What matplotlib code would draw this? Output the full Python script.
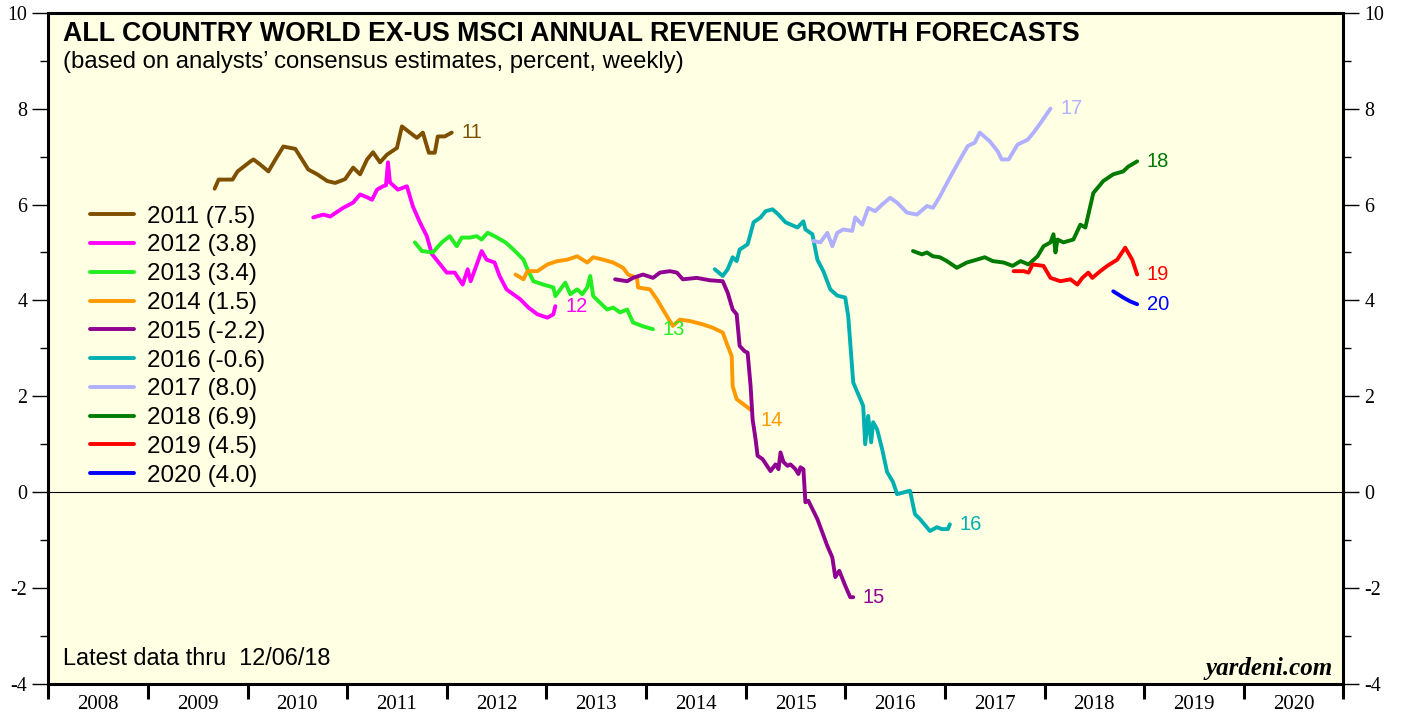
import matplotlib
matplotlib.use("Agg")
import matplotlib.pyplot as plt
from matplotlib.ticker import MultipleLocator, FixedLocator, FixedFormatter

plt.rcParams["font.family"] = "Liberation Sans"
plt.rcParams["axes.unicode_minus"] = False

# ---------------------------------------------------------------------------
# data: weekly consensus forecasts (x = decimal year)
# ---------------------------------------------------------------------------
x_2011 = [2009.67, 2009.71, 2009.77, 2009.85, 2009.90, 2010.03, 2010.06, 2010.13, 2010.21,
          2010.28, 2010.36, 2010.48, 2010.61, 2010.70, 2010.80, 2010.88, 2010.98, 2011.06,
          2011.13, 2011.20, 2011.26, 2011.33, 2011.40, 2011.50, 2011.55, 2011.63, 2011.70,
          2011.76, 2011.82, 2011.88, 2011.91, 2011.98, 2012.05]
y_2011 = [6.33, 6.52, 6.52, 6.52, 6.69, 6.90, 6.94, 6.83, 6.69,
          6.94, 7.21, 7.16, 6.73, 6.63, 6.49, 6.45, 6.53, 6.77,
          6.63, 6.94, 7.09, 6.88, 7.04, 7.18, 7.63, 7.50, 7.39,
          7.50, 7.08, 7.08, 7.42, 7.42, 7.50]

x_2012 = [2010.66, 2010.76, 2010.83, 2010.96, 2011.06, 2011.13, 2011.20, 2011.25, 2011.30,
          2011.36, 2011.39, 2011.41, 2011.43, 2011.51, 2011.60, 2011.66, 2011.73, 2011.80,
          2011.85, 2012.00, 2012.08, 2012.16, 2012.21, 2012.24, 2012.35, 2012.40, 2012.48,
          2012.53, 2012.60, 2012.74, 2012.82, 2012.91, 2013.01, 2013.07, 2013.09]
y_2012 = [5.73, 5.79, 5.75, 5.93, 6.04, 6.21, 6.15, 6.10, 6.31,
          6.38, 6.40, 6.88, 6.46, 6.31, 6.38, 5.96, 5.63, 5.34,
          4.97, 4.58, 4.58, 4.33, 4.65, 4.40, 5.03, 4.85, 4.79,
          4.51, 4.23, 4.02, 3.85, 3.71, 3.64, 3.71, 3.88]

x_2013 = [2011.68, 2011.75, 2011.86, 2011.95, 2012.03, 2012.10, 2012.15, 2012.23, 2012.30,
          2012.35, 2012.41, 2012.48, 2012.59, 2012.67, 2012.77, 2012.81, 2012.87, 2012.97,
          2013.07, 2013.09, 2013.19, 2013.24, 2013.31, 2013.36, 2013.41, 2013.44, 2013.47,
          2013.61, 2013.67, 2013.74, 2013.81, 2013.87, 2013.97, 2014.07]
y_2013 = [5.21, 5.03, 5.00, 5.21, 5.34, 5.13, 5.31, 5.31, 5.34,
          5.27, 5.41, 5.34, 5.21, 5.06, 4.85, 4.65, 4.40, 4.33,
          4.27, 4.09, 4.37, 4.13, 4.23, 4.13, 4.27, 4.51, 4.09,
          3.81, 3.85, 3.75, 3.81, 3.54, 3.46, 3.40]

x_2014 = [2012.69, 2012.77, 2012.81, 2012.91, 2013.01, 2013.11, 2013.21, 2013.31, 2013.41,
          2013.47, 2013.57, 2013.67, 2013.77, 2013.82, 2013.91, 2013.92, 2014.04, 2014.11,
          2014.21, 2014.27, 2014.34, 2014.44, 2014.57, 2014.67, 2014.77, 2014.82, 2014.86,
          2014.87, 2014.91, 2014.98, 2015.05]
y_2014 = [4.54, 4.44, 4.61, 4.61, 4.75, 4.82, 4.85, 4.92, 4.79,
          4.90, 4.85, 4.79, 4.68, 4.54, 4.47, 4.27, 4.23, 4.02,
          3.67, 3.47, 3.60, 3.57, 3.50, 3.43, 3.33, 3.05, 2.84,
          2.21, 1.94, 1.83, 1.72]

x_2015 = [2013.69, 2013.81, 2013.87, 2013.97, 2014.07, 2014.14, 2014.24, 2014.31, 2014.37,
          2014.51, 2014.64, 2014.77, 2014.82, 2014.87, 2014.91, 2014.94, 2014.99, 2015.02,
          2015.05, 2015.07, 2015.10, 2015.12, 2015.17, 2015.25, 2015.30, 2015.33, 2015.35,
          2015.38, 2015.42, 2015.45, 2015.50, 2015.53, 2015.55, 2015.58, 2015.60, 2015.63,
          2015.72, 2015.77, 2015.82, 2015.87, 2015.90, 2015.94, 2016.00, 2016.05, 2016.08]
y_2015 = [4.44, 4.40, 4.47, 4.54, 4.47, 4.58, 4.61, 4.58, 4.44,
          4.47, 4.42, 4.40, 4.16, 3.81, 3.71, 3.05, 2.94, 2.91,
          2.21, 1.52, 1.10, 0.76, 0.69, 0.44, 0.58, 0.48, 0.83,
          0.63, 0.55, 0.58, 0.48, 0.38, 0.52, 0.48, -0.21, -0.18,
          -0.56, -0.84, -1.12, -1.36, -1.77, -1.64, -1.95, -2.19, -2.19]

x_2016 = [2014.69, 2014.77, 2014.82, 2014.87, 2014.91, 2014.94, 2015.02, 2015.08, 2015.15,
          2015.20, 2015.27, 2015.33, 2015.40, 2015.52, 2015.58, 2015.60, 2015.67, 2015.72,
          2015.78, 2015.85, 2015.92, 2016.00, 2016.03, 2016.08, 2016.18, 2016.20, 2016.23,
          2016.26, 2016.28, 2016.32, 2016.37, 2016.42, 2016.48, 2016.52, 2016.65, 2016.70,
          2016.75, 2016.85, 2016.92, 2016.97, 2017.03, 2017.05]
y_2016 = [4.65, 4.51, 4.65, 4.90, 4.82, 5.06, 5.17, 5.63, 5.73,
          5.86, 5.90, 5.79, 5.63, 5.52, 5.65, 5.48, 5.38, 4.85,
          4.61, 4.23, 4.10, 4.06, 3.67, 2.29, 1.80, 1.00, 1.59,
          1.04, 1.46, 1.31, 0.90, 0.42, 0.21, -0.04, 0.03, -0.46,
          -0.56, -0.81, -0.73, -0.77, -0.77, -0.67]

x_2017 = [2015.68, 2015.75, 2015.82, 2015.87, 2015.92, 2015.98, 2016.07, 2016.10, 2016.17,
          2016.23, 2016.30, 2016.37, 2016.45, 2016.52, 2016.62, 2016.72, 2016.82, 2016.88,
          2016.95, 2017.05, 2017.13, 2017.23, 2017.30, 2017.35, 2017.45, 2017.53, 2017.57,
          2017.64, 2017.73, 2017.83, 2017.89, 2017.96, 2018.03, 2018.06]
y_2017 = [5.24, 5.21, 5.41, 5.13, 5.41, 5.48, 5.45, 5.73, 5.58,
          5.93, 5.86, 6.00, 6.14, 6.04, 5.83, 5.79, 5.97, 5.93,
          6.17, 6.56, 6.86, 7.22, 7.29, 7.50, 7.32, 7.11, 6.94,
          6.94, 7.25, 7.35, 7.50, 7.70, 7.91, 8.00]

x_2018 = [2016.68, 2016.77, 2016.82, 2016.88, 2016.95, 2017.02, 2017.12, 2017.22, 2017.32,
          2017.40, 2017.48, 2017.59, 2017.68, 2017.76, 2017.84, 2017.93, 2017.99, 2018.06,
          2018.09, 2018.11, 2018.13, 2018.19, 2018.29, 2018.36, 2018.41, 2018.49, 2018.59,
          2018.69, 2018.79, 2018.84, 2018.93]
y_2018 = [5.03, 4.96, 5.00, 4.92, 4.90, 4.82, 4.68, 4.79, 4.85,
          4.90, 4.82, 4.79, 4.72, 4.82, 4.75, 4.92, 5.13, 5.21,
          5.38, 5.00, 5.27, 5.21, 5.27, 5.58, 5.52, 6.24, 6.49,
          6.63, 6.69, 6.79, 6.90]

x_2019 = [2017.69, 2017.79, 2017.84, 2017.88, 2017.99, 2018.06, 2018.16, 2018.26, 2018.33,
          2018.38, 2018.44, 2018.48, 2018.56, 2018.63, 2018.73, 2018.81, 2018.88, 2018.93]
y_2019 = [4.61, 4.61, 4.58, 4.75, 4.72, 4.47, 4.40, 4.44, 4.33,
          4.47, 4.58, 4.47, 4.61, 4.72, 4.85, 5.10, 4.85, 4.54]

x_2020 = [2018.69, 2018.79, 2018.86, 2018.93]
y_2020 = [4.19, 4.06, 3.98, 3.92]

years = [2011, 2012, 2013, 2014, 2015, 2016, 2017, 2018, 2019, 2020]
legend_values = ["7.5", "3.8", "3.4", "1.5", "-2.2", "-0.6", "8.0", "6.9", "4.5", "4.0"]
colors = ["#7f4f00", "#ff00ff", "#22ee22", "#ff9900", "#900090",
          "#00b0b0", "#b0b0ff", "#007a00", "#ff0000", "#0000ff"]
xs = [x_2011, x_2012, x_2013, x_2014, x_2015, x_2016, x_2017, x_2018, x_2019, x_2020]
ys = [y_2011, y_2012, y_2013, y_2014, y_2015, y_2016, y_2017, y_2018, y_2019, y_2020]
# small vertical nudges for the end labels (points)
label_dy = [0, 0, 0, -8, 0, 0, 0, 0, 0, 0]

year_labels = [str(y) for y in range(2008, 2021)]

# ---------------------------------------------------------------------------
fig = plt.figure(figsize=(14.03, 7.19), dpi=100)
ax = fig.add_axes([0.0344, 0.0487, 0.9231, 0.9336])
ax.set_facecolor("#ffffe4")

for yr, val, col, x, y, dy in zip(years, legend_values, colors, xs, ys, label_dy):
    ax.plot(x, y, color=col, lw=2.8, label=f"{yr} ({val})",
            solid_joinstyle="round", solid_capstyle="round")
    ax.annotate(str(yr)[2:], (x[-1], y[-1]), xytext=(7, dy), textcoords="offset points",
                color=col, fontsize=14.5, va="center", ha="left")

ax.axhline(0, color="black", lw=0.8, zorder=0)

ax.set_xlim(2008, 2021)
ax.set_ylim(-4, 10)

# x axis: tick marks at year boundaries, labels centred in each year
ax.xaxis.set_major_locator(FixedLocator(range(2008, 2022)))
ax.xaxis.set_major_formatter(FixedFormatter([""] * 14))
ax.xaxis.set_minor_locator(FixedLocator([y + 0.5 for y in range(2008, 2021)]))
ax.xaxis.set_minor_formatter(FixedFormatter(year_labels))
ax.tick_params(axis="x", which="major", direction="out", length=11, width=2.2)
ax.tick_params(axis="x", which="minor", length=0, pad=8, labelsize=15,
               labelfontfamily="Liberation Serif")

# y axis: both sides
ax.yaxis.set_major_locator(MultipleLocator(2))
ax.yaxis.set_minor_locator(MultipleLocator(1))
ax.tick_params(axis="y", which="both", direction="out", left=True, right=True,
               labelleft=True, labelright=True, width=1)
ax.tick_params(axis="y", which="major", length=11.5, pad=3.5, labelsize=14.4,
               labelfontfamily="Liberation Serif")
ax.tick_params(axis="y", which="minor", length=6)

for s in ax.spines.values():
    s.set_linewidth(2.2)

ax.text(0.0114, 0.9583, "ALL COUNTRY WORLD EX-US MSCI ANNUAL REVENUE GROWTH FORECASTS",
        transform=ax.transAxes, fontsize=19.3, fontweight="bold", va="baseline")
ax.text(0.0114, 0.9176, "(based on analysts\u2019 consensus estimates, percent, weekly)",
        transform=ax.transAxes, fontsize=17.2, va="baseline")
ax.text(0.0114, 0.0283, "Latest data thru  12/06/18", transform=ax.transAxes,
        fontsize=16.9, va="baseline")
ax.text(0.992, 0.0134, "yardeni.com", transform=ax.transAxes, fontsize=18,
        fontfamily="Liberation Serif", fontweight="bold", fontstyle="italic",
        ha="right", va="baseline")

ax.legend(loc="upper left", bbox_to_anchor=(0.032, 0.7125), frameon=False,
          fontsize=17.4, handlelength=1.83, handletextpad=0.53, labelspacing=0.28,
          borderpad=0, borderaxespad=0)

fig.savefig("out.png", dpi=100)
